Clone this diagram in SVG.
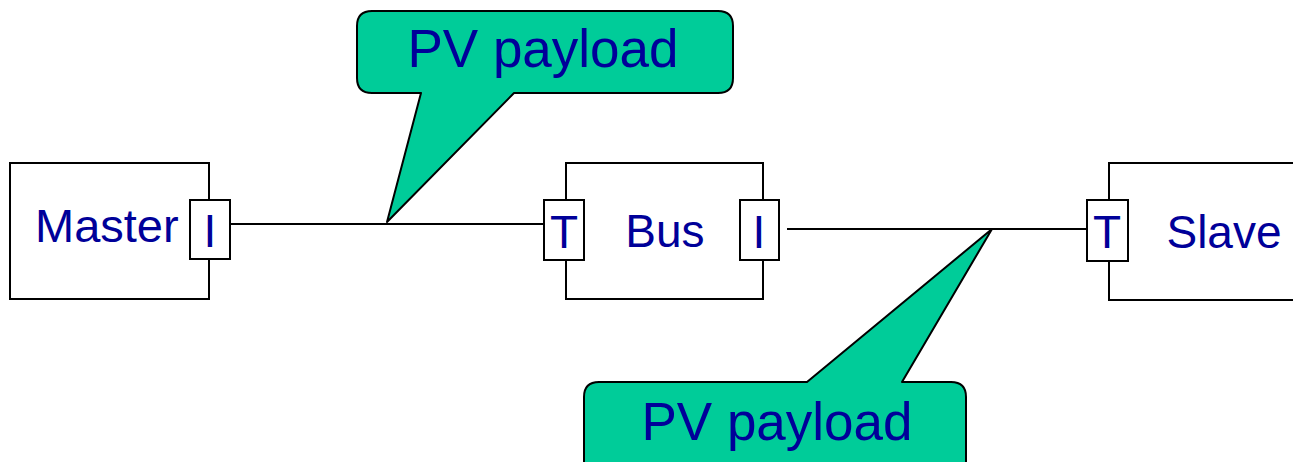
<svg xmlns="http://www.w3.org/2000/svg" width="1293" height="462" viewBox="0 0 1293 462">
<style>
.box{fill:#fff;stroke:#000;stroke-width:2}
.port{fill:#fff;stroke:#000;stroke-width:2}
.lbl{font-family:"Liberation Sans",Arial,sans-serif;fill:#000099;font-size:46px}
.mid{text-anchor:middle}
.wire{stroke:#000;stroke-width:2;fill:none}
.call{fill:#00CC99;stroke:#000;stroke-width:2;stroke-linejoin:round}
.ctext{font-family:"Liberation Sans",Arial,sans-serif;fill:#000099;font-size:53px;text-anchor:middle}
</style>
<rect width="1293" height="462" fill="#fff"/>
<g id="connectors">
<line class="wire" x1="230" y1="224" x2="544" y2="224"/>
<line class="wire" x1="787" y1="229" x2="1087" y2="229"/>
</g>
<g id="master">
<rect class="box" x="10" y="163" width="199" height="136"/>
<text class="lbl" x="35" y="242" style="font-size:47px">Master</text>
<rect class="port" x="190" y="200" width="40" height="59"/>
<text class="lbl mid" x="210" y="247">I</text>
</g>
<g id="bus">
<rect class="box" x="566" y="163" width="197" height="136"/>
<text class="lbl mid" x="665" y="247">Bus</text>
<rect class="port" x="544" y="200" width="40" height="60"/>
<text class="lbl mid" x="564" y="248">T</text>
<rect class="port" x="740" y="200" width="39" height="60"/>
<text class="lbl mid" x="759" y="248">I</text>
</g>
<g id="slave">
<rect class="box" x="1109" y="163" width="200" height="137"/>
<text class="lbl mid" x="1224" y="248">Slave</text>
<rect class="port" x="1087" y="200" width="41" height="61"/>
<text class="lbl mid" x="1107" y="248">T</text>
</g>
<g id="callout1">
<path class="call" d="M372,11 H718 Q733,11 733,26 V78 Q733,93 718,93 H514 L387,222 L421,93 H372 Q357,93 357,78 V26 Q357,11 372,11 Z"/>
<text class="ctext" x="543" y="67">PV payload</text>
</g>
<g id="callout2">
<path class="call" d="M599,382 H807 L992,229 L902,382 H951 Q966,382 966,397 V480 H584 V397 Q584,382 599,382 Z"/>
<text class="ctext" x="777" y="440">PV payload</text>
</g>
</svg>
